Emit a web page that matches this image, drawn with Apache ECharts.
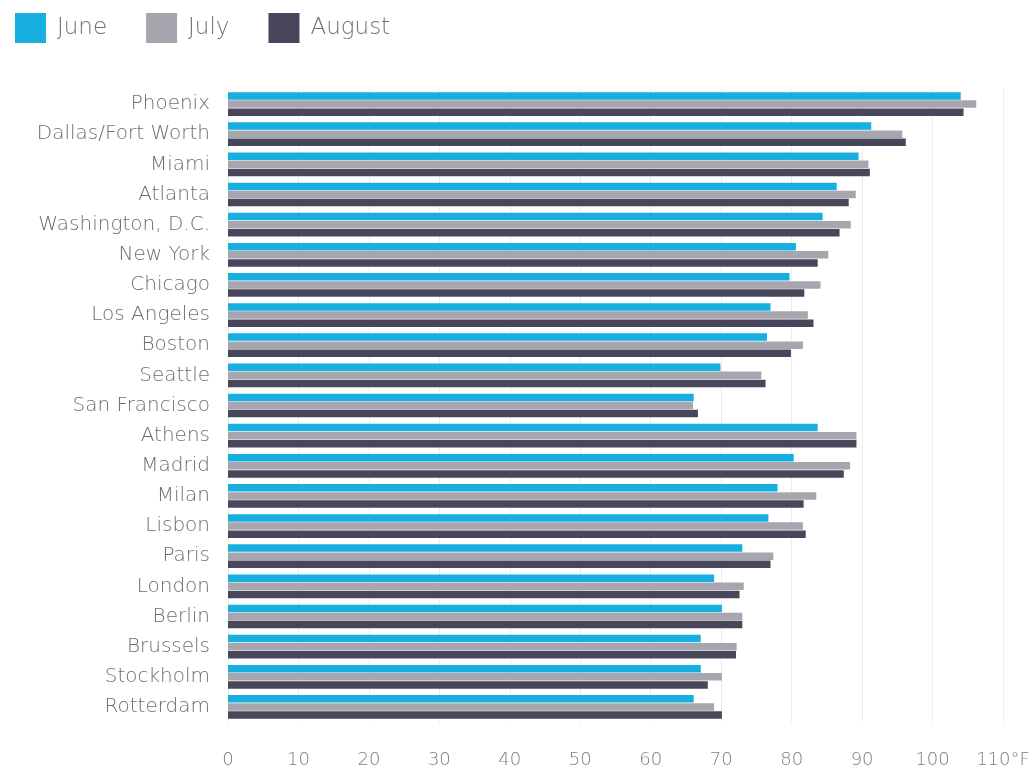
<!DOCTYPE html>
<html><head><meta charset="utf-8">
<script src="https://cdn.jsdelivr.net/npm/echarts@6/dist/echarts.min.js"></script>
<style>html,body{margin:0;padding:0;background:#fff}#c{width:1034px;height:773px}</style>
</head><body><div id="c"></div>
<script>
const cities = ["Phoenix","Dallas/Fort Worth","Miami","Atlanta","Washington, D.C.","New York","Chicago","Los Angeles","Boston","Seattle","San Francisco","Athens","Madrid","Milan","Lisbon","Paris","London","Berlin","Brussels","Stockholm","Rotterdam"];
const june   = [104.0,91.3,89.5,86.4,84.4,80.6,79.7,77.0,76.5,69.9,66.1,83.7,80.3,78.0,76.7,73.0,69.0,70.1,67.1,67.1,66.1];
const july   = [106.2,95.7,90.9,89.1,88.4,85.2,84.1,82.3,81.6,75.7,66.0,89.2,88.3,83.5,81.6,77.4,73.2,73.0,72.2,70.1,69.0];
const august = [104.4,96.2,91.1,88.1,86.8,83.7,81.8,83.1,79.9,76.3,66.7,89.2,87.4,81.7,82.0,77.0,72.6,73.0,72.1,68.1,70.1];
const seriesNames = ["June","July","August"];
const colors = ["#16afe0","#a7a6ae","#47465a"];
const font = "DejaVu Sans";
const chart = echarts.init(document.getElementById('c'));
const dataSets = [june, july, august];
chart.setOption({
  animation:false,
  textStyle:{fontFamily:font,fontWeight:200},
  legend:{left:10,top:8,itemWidth:31,itemHeight:30,itemGap:39,icon:'rect',
    textStyle:{fontSize:23,color:'#70707b',fontFamily:font,fontWeight:200,padding:[0,0,0,6]},
    data:seriesNames},
  grid:{left:228,right:31,top:89,bottom:51,containLabel:false},
  xAxis:{type:'value',min:0,max:110,interval:10,
    axisLine:{show:false},axisTick:{show:false},
    splitLine:{lineStyle:{color:'#ececec',width:1}},
    axisLabel:{color:'#7c7c86',fontSize:18,margin:29,fontFamily:font,fontWeight:200,
      formatter:v=>v===110?'110°F':String(v)}},
  yAxis:{type:'category',data:cities,inverse:true,
    axisLine:{show:false},axisTick:{show:false},
    axisLabel:{color:'#6c6c77',fontSize:20,margin:18,fontFamily:font,fontWeight:200}},
  series: seriesNames.map((n,i)=>({name:n,type:'bar',data:dataSets[i],
    barWidth:7.5,barGap:'8%',itemStyle:{color:colors[i]}}))
});
</script></body></html>
